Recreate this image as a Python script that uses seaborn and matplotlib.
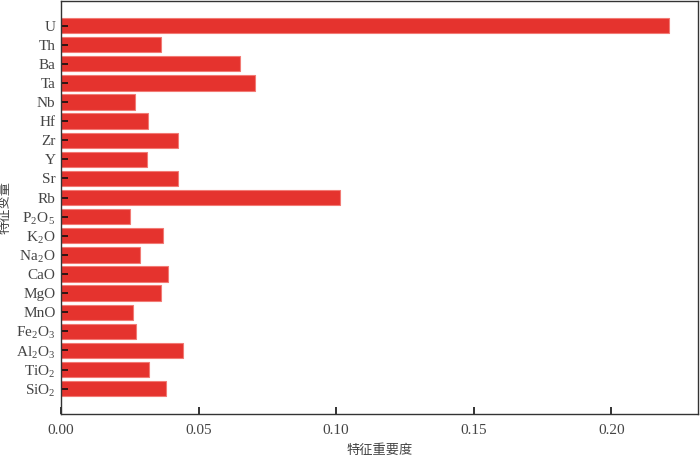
import pandas as pd
import matplotlib.pyplot as plt
import seaborn as sns

# Feature importance values
features = ['U', 'Th', 'Ba', 'Ta', 'Nb', 'Hf', 'Zr', 'Y', 'Sr', 'Rb',
            'P$_\\mathregular{2}$O$_\\mathregular{5}$', 'K$_\\mathregular{2}$O',
            'Na$_\\mathregular{2}$O', 'CaO', 'MgO', 'MnO',
            'Fe$_\\mathregular{2}$O$_\\mathregular{3}$',
            'Al$_\\mathregular{2}$O$_\\mathregular{3}$',
            'TiO$_\\mathregular{2}$', 'SiO$_\\mathregular{2}$']
importance = [0.221, 0.0362, 0.0649, 0.0706, 0.0269, 0.0315, 0.0424, 0.0311,
              0.0426, 0.1015, 0.0251, 0.0372, 0.0287, 0.0390, 0.0362, 0.0261,
              0.0273, 0.0443, 0.0321, 0.0382]
xticks = [0.00, 0.05, 0.10, 0.15, 0.20]

df = pd.DataFrame({'feature': features, 'importance': importance})

sns.set_style('ticks')
plt.rcParams['font.family'] = ['Liberation Serif', 'Noto Sans CJK SC']
plt.rcParams['mathtext.fontset'] = 'stix'

fig = plt.figure(figsize=(7, 4.58), dpi=100)
ax = fig.add_axes([0.0871, 0.096, 0.91, 0.902])

sns.barplot(data=df, x='importance', y='feature', orient='h', ax=ax,
            color='#E5332E', saturation=1, width=0.8,
            edgecolor='#F27A74', linewidth=0.8)
for p in ax.patches:
    p.set_zorder(1)
ax.set_axisbelow(False)

ax.set_xlim(0, 0.2315)
ax.set_ylim(len(features) - 1 + 1.33, -1.29)
ax.set_xticks(xticks)
ax.set_xticklabels([f'{t:.2f}' for t in xticks])

ax.tick_params(axis='both', direction='in', length=5, width=1.2,
               color='#111111', labelcolor='#444444', labelsize=11)
ax.tick_params(axis='x', pad=7)
ax.tick_params(axis='y', pad=4)
for s in ax.spines.values():
    s.set_color('#333333')
    s.set_linewidth(1)
    s.set_zorder(3)

ax.set_xlabel('特征重要度', family=['Noto Sans CJK SC'], fontsize=9.5,
              color='#444444', labelpad=5)
ax.set_ylabel('特征变量', family=['Noto Sans CJK SC'], fontsize=9.5,
              color='#444444', labelpad=3)

plt.savefig('out.png', dpi=100)
